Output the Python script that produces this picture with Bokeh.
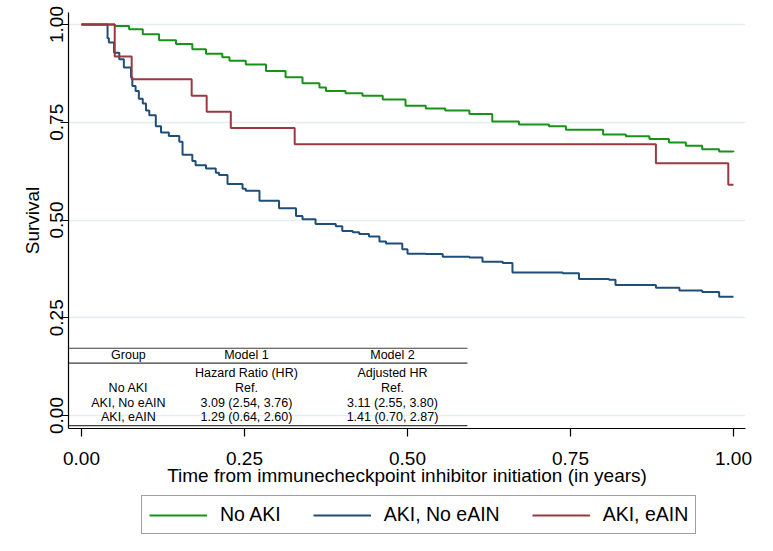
from bokeh.plotting import figure
from bokeh.models import FixedTicker, Legend, LegendItem, Range1d
from bokeh.layouts import column
from bokeh.embed import file_html
from bokeh.resources import INLINE
from bokeh.core.properties import value

# ---------------- data ----------------
series_names = ["No AKI", "AKI, No eAIN", "AKI, eAIN"]

no_aki_t = [0.0, 0.051, 0.073, 0.094, 0.119, 0.145, 0.170, 0.191, 0.216, 0.227,
            0.252, 0.283, 0.313, 0.339, 0.365, 0.375, 0.405, 0.431, 0.462, 0.497,
            0.528, 0.558, 0.595, 0.630, 0.671, 0.717, 0.743, 0.800, 0.835, 0.871,
            0.901, 0.927, 0.952, 0.978, 1.0]
no_aki_s = [1.0, 0.996, 0.988, 0.975, 0.960, 0.950, 0.937, 0.925, 0.916, 0.907,
            0.898, 0.881, 0.865, 0.850, 0.839, 0.830, 0.824, 0.818, 0.808, 0.792,
            0.785, 0.780, 0.771, 0.752, 0.744, 0.740, 0.731, 0.719, 0.714, 0.707,
            0.698, 0.690, 0.681, 0.675, 0.674]

aki_no_eain_t = [0.0, 0.040, 0.042, 0.050, 0.058, 0.065, 0.076, 0.078, 0.083, 0.088,
                 0.094, 0.099, 0.104, 0.114, 0.122, 0.134, 0.150, 0.155, 0.170, 0.175,
                 0.191, 0.206, 0.211, 0.224, 0.247, 0.252, 0.273, 0.303, 0.329, 0.339,
                 0.359, 0.390, 0.400, 0.416, 0.426, 0.441, 0.457, 0.467, 0.492, 0.500,
                 0.528, 0.554, 0.595, 0.615, 0.646, 0.661, 0.738, 0.763, 0.809, 0.819,
                 0.881, 0.917, 0.952, 0.978, 1.0]
aki_no_eain_s = [1.0, 0.965, 0.954, 0.928, 0.911, 0.890, 0.865, 0.843, 0.830, 0.810,
                 0.798, 0.780, 0.768, 0.740, 0.724, 0.715, 0.700, 0.667, 0.651, 0.640,
                 0.632, 0.621, 0.615, 0.592, 0.580, 0.575, 0.549, 0.530, 0.510, 0.502,
                 0.490, 0.484, 0.472, 0.469, 0.464, 0.458, 0.445, 0.440, 0.425, 0.414,
                 0.413, 0.406, 0.404, 0.393, 0.390, 0.366, 0.364, 0.349, 0.347, 0.334,
                 0.327, 0.320, 0.316, 0.304, 0.304]

aki_eain_t = [0.0, 0.051, 0.077, 0.169, 0.192, 0.229, 0.327, 0.881, 0.992, 1.0]
aki_eain_s = [1.0, 0.918, 0.860, 0.818, 0.777, 0.735, 0.694, 0.645, 0.590, 0.590]

x_ticks = [0.0, 0.25, 0.5, 0.75, 1.0]
x_tick_labels = ["0.00", "0.25", "0.50", "0.75", "1.00"]
y_ticks = [0.0, 0.25, 0.5, 0.75, 1.0]
y_tick_labels = ["0.00", "0.25", "0.50", "0.75", "1.00"]

table_header = ["Group", "Model 1", "Model 2"]
table_subheader = ["", "Hazard Ratio (HR)", "Adjusted HR"]
table_groups = ["No AKI", "AKI, No eAIN", "AKI, eAIN"]
table_model1 = ["Ref.", "3.09 (2.54, 3.76)", "1.29 (0.64, 2.60)"]
table_model2 = ["Ref.", "3.11 (2.55, 3.80)", "1.41 (0.70, 2.87)"]

# ---------------- styles / layout ----------------
colors = ["#179317", "#1f4e79", "#993a40"]
FONT = "Liberation Sans"
LINE_W = 2

p = figure(frame_width=677, frame_height=416,
           x_range=Range1d(-0.0199, 1.0184), y_range=Range1d(-0.0332, 1.0307),
           output_backend="svg", toolbar_location=None,
           min_border_left=68, min_border_right=12, min_border_top=12,
           min_border_bottom=64)
p.outline_line_color = None
p.background_fill_color = "white"
p.border_fill_color = "white"

# grid
p.xgrid.visible = False
p.ygrid.ticker = FixedTicker(ticks=y_ticks)
p.ygrid.grid_line_color = "#e4edf0"
p.ygrid.grid_line_width = 1.5

# axes
for ax in (p.xaxis[0], p.yaxis[0]):
    ax.axis_line_color = "black"
    ax.axis_line_width = 1.2
    ax.major_tick_line_color = "black"
    ax.major_tick_line_width = 1.2
    ax.minor_tick_line_color = None
    ax.major_tick_in = 0
    ax.major_label_text_font = FONT
    ax.major_label_text_font_size = "19px"
    ax.major_label_text_color = "black"
    ax.axis_label_text_font = FONT
    ax.axis_label_text_font_size = "19px"
    ax.axis_label_text_font_style = "normal"
    ax.axis_label_text_color = "black"

p.xaxis.ticker = FixedTicker(ticks=x_ticks)
p.xaxis.major_label_overrides = {t: l for t, l in zip(x_ticks, x_tick_labels)}
p.xaxis.major_tick_out = 8
p.xaxis.major_label_standoff = 15
p.xaxis.axis_label = "Time from immunecheckpoint inhibitor initiation (in years)"
p.xaxis.axis_label_standoff = -3

p.yaxis.ticker = FixedTicker(ticks=y_ticks)
p.yaxis.major_label_overrides = {t: l for t, l in zip(y_ticks, y_tick_labels)}
p.yaxis.major_label_orientation = "vertical"
p.yaxis.major_tick_out = 8
p.yaxis.major_label_standoff = -3
p.yaxis.axis_label = "Survival"
p.yaxis.axis_label_standoff = 5

# curves
r_green = p.step(no_aki_t, no_aki_s, mode="after", line_color=colors[0], line_width=LINE_W)
r_blue = p.step(aki_no_eain_t, aki_no_eain_s, mode="after", line_color=colors[1], line_width=LINE_W)
r_red = p.step(aki_eain_t, aki_eain_s, mode="after", line_color=colors[2], line_width=LINE_W)

# table inside the plot
col_x = [0.072, 0.253, 0.477]
row_y = [0.155, 0.110, 0.070, 0.033, -0.003]
rule_y = [0.172, 0.134, -0.026]
rule_x0, rule_x1 = -0.019, 0.592

p.segment(x0=[rule_x0] * 3, x1=[rule_x1] * 3, y0=rule_y, y1=rule_y,
          line_color="#3c3c3c", line_width=1.2)

tx, ty, tt = [], [], []
rows = [table_header, table_subheader] + [
    [g, m1, m2] for g, m1, m2 in zip(table_groups, table_model1, table_model2)]
for yi, row in zip(row_y, rows):
    for xi, txt in zip(col_x, row):
        if txt:
            tx.append(xi)
            ty.append(yi)
            tt.append(txt)
p.text(x=tx, y=ty, text=tt, text_font=value(FONT), text_font_size="12.5px",
       text_align="center", text_baseline="middle", text_color="black")

# ---------------- legend strip (separate figure below) ----------------
lg = figure(width=757, height=43, x_range=Range1d(0, 1), y_range=Range1d(0, 1),
            output_backend="svg", toolbar_location=None,
            min_border_left=0, min_border_right=0, min_border_top=0, min_border_bottom=0)
lg.axis.visible = False
lg.grid.visible = False
lg.outline_line_color = None
lg.background_fill_color = "white"
lg.border_fill_color = "white"

# legend keys: one undefined (NaN) point each, so nothing is drawn in the strip itself
nan = float("nan")
keys = [lg.line(x=[nan], y=[nan], line_color=c, line_width=LINE_W) for c in colors]

legend = Legend(items=[LegendItem(label=n, renderers=[k]) for n, k in zip(series_names, keys)],
                orientation="horizontal", location=(73, 1))
legend.label_text_font = FONT
legend.label_text_font_size = "19.5px"
legend.label_text_color = "black"
legend.glyph_width = 58
legend.glyph_height = 20
legend.label_height = 20
legend.label_standoff = 13
legend.spacing = 32
legend.padding = 7
legend.margin = 0
legend.border_line_color = "#404040"
legend.border_line_width = 1.3
legend.background_fill_color = "white"
legend.background_fill_alpha = 1.0
lg.add_layout(legend, "center")

layout = column(p, lg, spacing=0)
open("out.html", "w").write(file_html(layout, INLINE))
